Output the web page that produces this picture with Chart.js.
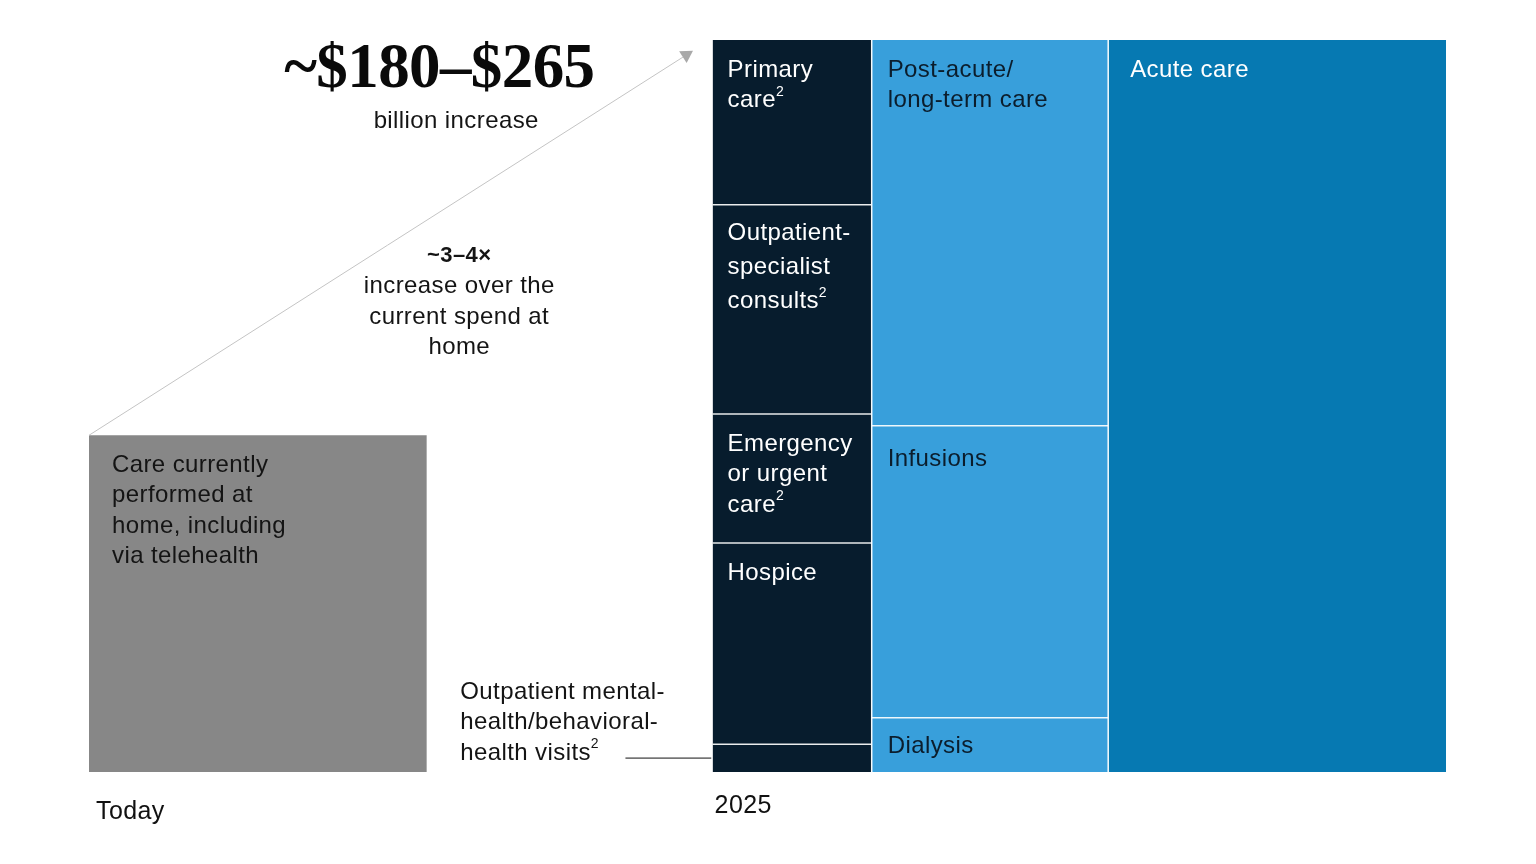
<!DOCTYPE html>
<html>
<head>
<meta charset="utf-8">
<script src="https://cdn.jsdelivr.net/npm/chart.js@4/dist/chart.umd.min.js"></script>
<style>
  html, body { margin: 0; padding: 0; background: #ffffff; }
  #wrap { width: 1536px; height: 864px; }
</style>
</head>
<body>
<div id="wrap"><canvas id="c" width="1536" height="864"></canvas></div>
<script>
// ---------- DATA ----------
// Column widths (relative spend width units) and the gap between Today and 2025
const todayWidth = 100;
const gapWidth = 84.6;
const widths2025 = [47.1, 70, 100];

// Heights as % of 2025 total (top-to-bottom order)
const todayLabels = ['Care currently', 'performed at', 'home, including', 'via telehealth'];
const todayValue = 46;

const col1Labels = [['Primary', 'care^2'], ['Outpatient-', 'specialist', 'consults^2'], ['Emergency', 'or urgent', 'care^2'], ['Hospice'], []];
const col1Values = [22.5, 28.6, 17.6, 27.5, 3.8];

const col2Labels = [['Post-acute/', 'long-term care'], ['Infusions'], ['Dialysis']];
const col2Values = [52.7, 39.9, 7.4];

const col3Labels = [['Acute care']];
const col3Values = [100];

const periodLabels = ['Today', '2025'];
const headline = '~$180\u2013$265';
const headlineSub = 'billion increase';
const multipleLabel = '~3\u20134\u00D7';
const multipleText = ['increase over the', 'current spend at', 'home'];
const mentalLabel = ['Outpatient mental-', 'health/behavioral-', 'health visits^2'];

// ---------- STYLES ----------
const SANS = '"Liberation Sans", Arial, sans-serif';
const SERIF = '"Liberation Serif", "Times New Roman", serif';
const colNavy = '#071c2d';
const colLight = '#389fdb';
const colAcute = '#0679b2';
const colGray = '#878787';

// ---------- BUILD ----------
const datasets = [];
const separators = [];
const rects = []; // {x0,x1,y0,y1,labels,textColor,padX,padY}

function addRect(x0, x1, y0, y1, color, labels, textColor, padX, padY) {
  datasets.push({
    type: 'line',
    data: [{x: x0, y: y1}, {x: x1, y: y1}],
    fill: {value: y0},
    backgroundColor: color,
    borderWidth: 0,
    pointRadius: 0,
    tension: 0
  });
  rects.push({x0, x1, y0, y1, labels, textColor, padX, padY});
}

function addLine(points, color, width) {
  separators.push({
    type: 'line',
    data: points,
    fill: false,
    borderColor: color,
    borderWidth: width,
    pointRadius: 0,
    tension: 0
  });
}

// Today column
addRect(0, todayWidth, 0, todayValue, colGray, todayLabels, '#141414', 23, 30);

// 2025 columns
const col2025 = [
  {values: col1Values, labels: col1Labels, color: colNavy, text: '#ffffff', padX: 15, padY: [30, 29, 30, 30, 30]},
  {values: col2Values, labels: col2Labels, color: colLight, text: '#0b1d2c', padX: 16, padY: [30, 34, 29]},
  {values: col3Values, labels: col3Labels, color: colAcute, text: '#ffffff', padX: 22, padY: [30]}
];
let xCursor = todayWidth + gapWidth;
const colStarts = [];
col2025.forEach((col, ci) => {
  const x0 = xCursor, x1 = xCursor + widths2025[ci];
  colStarts.push(x0);
  let top = 100;
  col.values.forEach((v, si) => {
    const bot = top - v;
    addRect(x0, x1, bot, top, col.color, col.labels[si], col.text, col.padX, col.padY[si]);
    if (si < col.values.length - 1) addLine([{x: x0, y: bot}, {x: x1, y: bot}], 'rgba(255,255,255,0.9)', 1.5);
    top = bot;
  });
  if (ci > 0) addLine([{x: x0, y: 0}, {x: x0, y: 100}], 'rgba(255,255,255,0.95)', 1.5);
  xCursor = x1;
});
const xMax = xCursor;

// Diagonal growth arrow (from Today top-left to 2025 top-left)
const arrow = {
  type: 'line',
  data: [{x: 0, y: todayValue}, {x: 176.8, y: 97.95}],
  fill: false,
  borderColor: '#c4c4c4',
  borderWidth: 1,
  pointRadius: [0, 8],
  pointStyle: 'triangle',
  rotation: 57.4,
  pointBackgroundColor: '#a9a9a9',
  pointBorderColor: '#a9a9a9',
  pointBorderWidth: 0,
  tension: 0
};

// Leader line for outpatient mental health
const leader = {
  type: 'line',
  data: [{x: 158.8, y: col1Values[4] / 2}, {x: colStarts[0] - 0.4, y: col1Values[4] / 2}],
  fill: false,
  borderColor: '#111111',
  borderWidth: 1,
  pointRadius: 0,
  tension: 0
};

// ---------- TEXT PLUGIN ----------
function drawRich(ctx, text, x, y, size, weight) {
  const parts = text.split('^');
  ctx.font = `${weight || 'normal'} ${size}px ${SANS}`;
  ctx.fillText(parts[0], x, y);
  if (parts[1]) {
    const w = ctx.measureText(parts[0]).width;
    ctx.font = `${weight || 'normal'} ${Math.round(size * 0.6)}px ${SANS}`;
    ctx.fillText(parts[1], x + w, y - size * 0.36);
  }
}

const textPlugin = {
  id: 'texts',
  afterDraw(chart) {
    const ctx = chart.ctx;
    const xs = chart.scales.x, ys = chart.scales.y;
    const px = v => xs.getPixelForValue(v);
    const py = v => ys.getPixelForValue(v);
    ctx.save();
    ctx.textBaseline = 'middle';
    ctx.letterSpacing = '0.4px';

    // Segment labels
    rects.forEach(r => {
      ctx.fillStyle = r.textColor;
      ctx.textAlign = 'left';
      const lh = r.labels.length === 3 && r.labels[0] === 'Outpatient-' ? 34 : 30.5;
      r.labels.forEach((t, i) => {
        drawRich(ctx, t, px(r.x0) + r.padX, py(r.y1) + r.padY + i * lh, 24);
      });
    });

    // Period labels under columns
    ctx.fillStyle = '#111111';
    ctx.textAlign = 'left';
    drawRich(ctx, periodLabels[0], px(0) + 7, py(0) + 40, 25);
    drawRich(ctx, periodLabels[1], px(colStarts[0]) + 2, py(0) + 34, 25);

    // Headline
    ctx.letterSpacing = '-0.6px';
    ctx.textAlign = 'center';
    ctx.font = `bold 63px ${SERIF}`;
    ctx.fillStyle = '#0a0a0a';
    ctx.fillText(headline, px(103.7), py(96.3) + 4);
    ctx.letterSpacing = '0.4px';
    ctx.font = `normal 24px ${SANS}`;
    ctx.fillStyle = '#141414';
    ctx.fillText(headlineSub, px(108.7), py(89.1) + 2);

    // Multiple annotation
    ctx.font = `bold 22px ${SANS}`;
    ctx.fillText(multipleLabel, px(109.6), py(70.8) + 2);
    ctx.font = `normal 24px ${SANS}`;
    multipleText.forEach((t, i) => ctx.fillText(t, px(109.6), py(70.8) + 33 + i * 30.5));

    // Mental health label
    ctx.textAlign = 'left';
    mentalLabel.forEach((t, i) => drawRich(ctx, t, px(109.9), py(11.07) + 1 + i * 30.5, 24));

    ctx.restore();
  }
};

// ---------- CHART ----------
new Chart(document.getElementById('c'), {
  type: 'line',
  data: {datasets: [arrow, leader, ...separators, ...datasets]},
  options: {
    responsive: false,
    animation: false,
    devicePixelRatio: 1,
    layout: {padding: {left: 89, right: 90, top: 40, bottom: 92}},
    scales: {
      x: {type: 'linear', min: 0, max: xMax, display: false},
      y: {type: 'linear', min: 0, max: 100, display: false}
    },
    plugins: {legend: {display: false}, tooltip: {enabled: false}},
    elements: {line: {capBezierPoints: false}}
  },
  plugins: [textPlugin]
});
</script>
</body>
</html>
